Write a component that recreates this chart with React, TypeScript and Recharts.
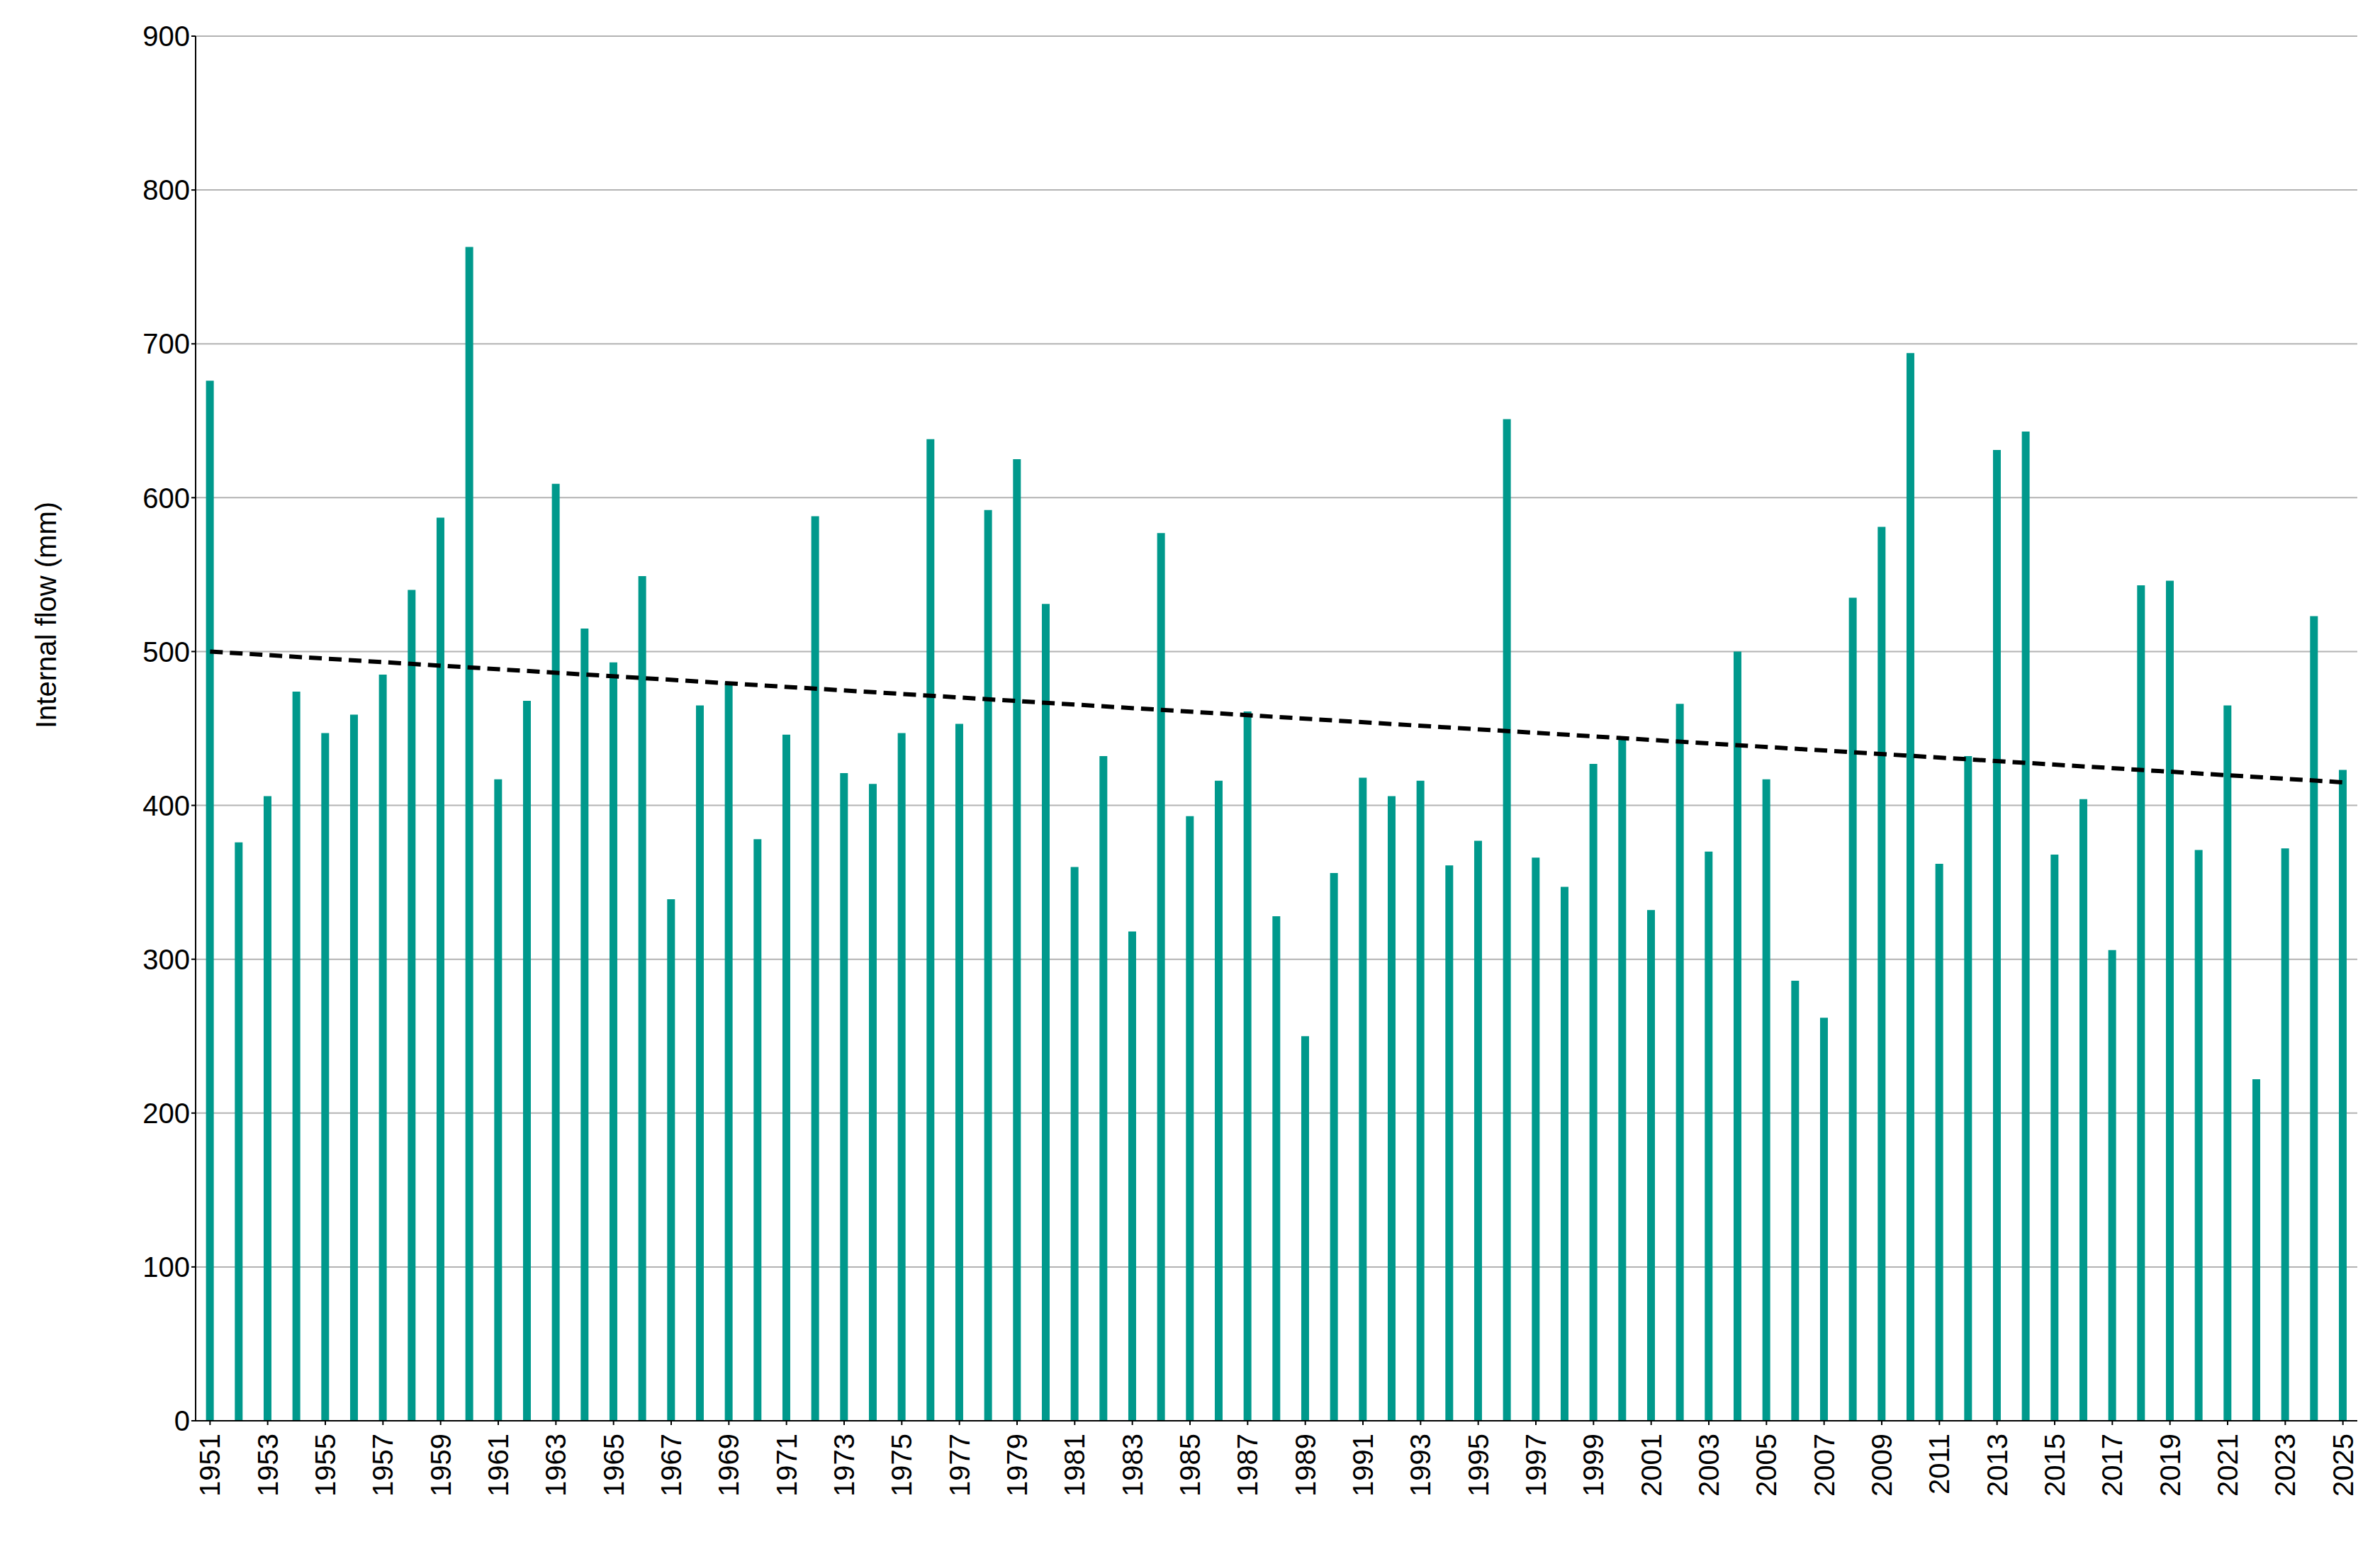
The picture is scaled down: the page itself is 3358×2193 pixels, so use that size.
import { ComposedChart, Bar, Line, XAxis, YAxis, CartesianGrid } from "recharts";

const years = Array.from({ length: 75 }, (_, i) => String(1951 + i));
const flow = [
  676, 376, 406, 474, 447, 459, 485, 540, 587, 763,
  417, 468, 609, 515, 493, 549, 339, 465, 480, 378,
  446, 588, 421, 414, 447, 638, 453, 592, 625, 531,
  360, 432, 318, 577, 393, 416, 461, 328, 250, 356,
  418, 406, 416, 361, 377, 651, 366, 347, 427, 443,
  332, 466, 370, 500, 417, 286, 262, 535, 581, 694,
  362, 432, 631, 643, 368, 404, 306, 543, 546, 371,
  465, 222, 372, 523, 423,
];
// trend line end points
const trendStart = 500;
const trendEnd = 415;
const yTicks = [0, 100, 200, 300, 400, 500, 600, 700, 800, 900];

const data = years.map((year, i) => ({
  year,
  flow: flow[i],
  trend: i === 0 ? trendStart : i === years.length - 1 ? trendEnd : null,
}));

const XTick = ({ x, y, payload }: any) => (
  <g transform={`translate(${x},${y + 10})`}>
    <text transform="rotate(-90)" textAnchor="end" dy={14} fontSize={40} fill="#000">
      {payload.value}
    </text>
  </g>
);

const App = () => (
  <div style={{ position: "absolute", left: 0, top: 0, fontFamily: "Liberation Sans, Arial, sans-serif" }}>
    <ComposedChart
      width={3358}
      height={2193}
      data={data}
      margin={{ top: 51, right: 32, left: 0, bottom: 0 }}
      barCategoryGap="36%"
    >
      <CartesianGrid vertical={false} stroke="#b3b3b3" strokeWidth={2} />
      <XAxis
        dataKey="year"
        interval={1}
        tick={<XTick />}
        height={188}
        axisLine={{ stroke: "#000", strokeWidth: 2 }}
        tickLine={{ stroke: "#000", strokeWidth: 2 }}
      />
      <YAxis
        width={276}
        domain={[0, 900]}
        ticks={yTicks}
        tick={{ fontSize: 40, fill: "#000" }}
        axisLine={{ stroke: "#000", strokeWidth: 2 }}
        tickLine={{ stroke: "#000", strokeWidth: 2 }}
        label={{ value: "Internal flow (mm)", angle: -90, position: "insideLeft", dx: 60, fontSize: 40, fill: "#000" }}
      />
      <Bar dataKey="flow" fill="#00998C" isAnimationActive={false} />
      <Line
        dataKey="trend"
        connectNulls
        dot={false}
        activeDot={false}
        stroke="#000"
        strokeWidth={6}
        strokeDasharray="18 10"
        isAnimationActive={false}
      />
    </ComposedChart>
  </div>
);

export default App;
